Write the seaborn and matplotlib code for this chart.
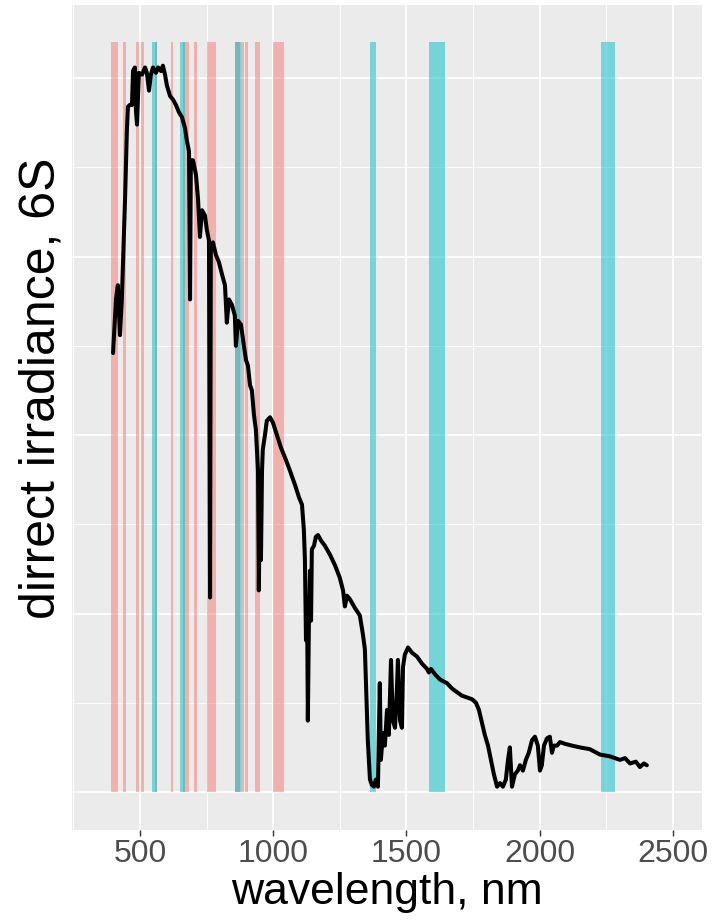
import matplotlib
matplotlib.use("Agg")
import matplotlib.pyplot as plt
import seaborn as sns
from matplotlib.ticker import MultipleLocator, NullFormatter, FixedLocator

# ---------------- data ----------------
wavelength = [399, 410, 417, 425, 432, 444, 451, 455, 462, 470, 474, 481, 485, 489, 496,
              508, 519, 526, 534, 541, 549, 560, 568, 579, 586, 594, 601, 613, 624, 635,
              646, 658, 669, 676, 684, 688, 691, 699, 710, 718, 725, 733, 744, 751, 759,
              763, 766, 774, 785, 796, 808, 819, 826, 834, 845, 856, 860, 868, 879, 890,
              898, 905, 913, 920, 928, 935, 943, 946, 950, 954, 958, 961, 969, 976, 988,
              999, 1014, 1029, 1048, 1063, 1082, 1097, 1108, 1115, 1119, 1123, 1127, 1130, 1134, 1138,
              1142, 1145, 1153, 1160, 1168, 1179, 1194, 1213, 1232, 1250, 1262, 1269, 1277, 1288, 1307,
              1325, 1337, 1344, 1348, 1355, 1363, 1370, 1378, 1385, 1393, 1400, 1404, 1412, 1419, 1427,
              1434, 1442, 1449, 1457, 1464, 1468, 1476, 1483, 1487, 1494, 1506, 1521, 1539, 1558, 1577,
              1584, 1592, 1607, 1626, 1652, 1671, 1689, 1708, 1727, 1746, 1761, 1772, 1783, 1794, 1806,
              1817, 1828, 1840, 1851, 1862, 1873, 1881, 1888, 1896, 1907, 1918, 1926, 1937, 1948, 1959,
              1971, 1982, 1993, 2001, 2008, 2016, 2027, 2038, 2046, 2053, 2065, 2076, 2095, 2121, 2151,
              2188, 2226, 2263, 2301, 2320, 2339, 2361, 2376, 2391, 2402]
irradiance = [2.46, 2.76, 2.84, 2.56, 2.76, 3.32, 3.71, 3.84, 3.85, 3.85, 4.04, 4.06, 3.82, 3.74, 4.03,
              4.02, 4.06, 4.03, 3.93, 4.02, 4.06, 4.03, 4.06, 4.04, 4.07, 4.02, 3.96, 3.90, 3.88, 3.85,
              3.81, 3.78, 3.72, 3.65, 3.59, 2.76, 3.54, 3.54, 3.46, 3.32, 3.11, 3.26, 3.23, 3.15, 3.09,
              1.09, 3.06, 3.08, 3.01, 2.97, 2.90, 2.84, 2.63, 2.76, 2.73, 2.67, 2.50, 2.64, 2.62, 2.50,
              2.42, 2.39, 2.28, 2.25, 2.11, 2.03, 1.80, 1.13, 1.64, 1.30, 1.80, 1.92, 2.00, 2.08, 2.10,
              2.07, 2.00, 1.93, 1.86, 1.80, 1.72, 1.65, 1.61, 1.47, 1.30, 0.85, 1.08, 0.40, 0.96, 1.24,
              0.96, 1.36, 1.38, 1.43, 1.44, 1.41, 1.38, 1.33, 1.27, 1.20, 1.13, 1.04, 1.10, 1.08, 1.03,
              0.99, 0.88, 0.80, 0.61, 0.29, 0.07, 0.04, 0.03, 0.07, 0.03, 0.61, 0.18, 0.33, 0.26, 0.46,
              0.32, 0.74, 0.40, 0.36, 0.57, 0.74, 0.40, 0.36, 0.70, 0.77, 0.81, 0.78, 0.76, 0.72, 0.69,
              0.67, 0.69, 0.66, 0.63, 0.61, 0.58, 0.56, 0.54, 0.53, 0.52, 0.50, 0.46, 0.39, 0.32, 0.26,
              0.18, 0.10, 0.03, 0.05, 0.03, 0.07, 0.18, 0.25, 0.03, 0.10, 0.12, 0.15, 0.12, 0.18, 0.22,
              0.29, 0.31, 0.26, 0.12, 0.15, 0.26, 0.30, 0.31, 0.22, 0.26, 0.26, 0.28, 0.27, 0.26, 0.25,
              0.24, 0.21, 0.20, 0.18, 0.19, 0.16, 0.17, 0.14, 0.16, 0.15]

olci_center = [400, 412.5, 442.5, 490, 510, 560, 620, 665, 673.75, 681.25, 708.75,
               753.75, 761.25, 764.375, 767.5, 778.75, 865, 885, 900, 940, 1020]
olci_width = [15, 10, 10, 10, 10, 10, 10, 10, 7.5, 7.5, 10,
              7.5, 2.5, 3.75, 2.5, 15, 20, 10, 10, 20, 40]
slstr_center = [554.27, 659.47, 868.0, 1374.8, 1613.4, 2255.7]
slstr_width = [19.26, 19.25, 20.6, 20.8, 60.68, 50.15]
band_top = 4.2

x_ticks = [500, 1000, 1500, 2000, 2500]
x_tick_labels = ["500", "1000", "1500", "2000", "2500"]
x_label = "wavelength, nm"
y_label = "dirrect irradiance, 6S"

# ---------------- style ----------------
sns.set_theme(style="darkgrid", rc={
    "axes.facecolor": "#EBEBEB",
    "grid.color": "white",
    "axes.edgecolor": "#EBEBEB",
})
plt.rcParams["font.family"] = ["Liberation Sans", "DejaVu Sans"]

fig = plt.figure(figsize=(7.15, 9.24), dpi=100)
ax = fig.add_axes([72 / 715, 1 - 829.5 / 924, 630 / 715, 824.5 / 924])
ax.set_axisbelow(True)

ax.bar(olci_center, band_top, width=olci_width, bottom=0, color="#F8766D",
       alpha=0.5, linewidth=0, align="center", zorder=2)
ax.bar(slstr_center, band_top, width=slstr_width, bottom=0, color="#00BFC4",
       alpha=0.5, linewidth=0, align="center", zorder=2)

sns.lineplot(x=wavelength, y=irradiance, sort=False, color="black",
             linewidth=2.9, ax=ax, zorder=3)
for ln in ax.lines:
    ln.set_solid_joinstyle("round")
    ln.set_solid_capstyle("round")

ax.set_xlim(245, 2609)
ax.set_ylim(-0.21, 4.41)

ax.xaxis.set_major_locator(FixedLocator(x_ticks))
ax.set_xticklabels(x_tick_labels)
ax.xaxis.set_minor_locator(FixedLocator([250, 750, 1250, 1750, 2250]))
ax.yaxis.set_major_locator(MultipleLocator(1.0))
ax.yaxis.set_minor_locator(MultipleLocator(0.5))
ax.yaxis.set_major_formatter(NullFormatter())

ax.grid(which="major", color="white", linewidth=1.3)
ax.grid(which="minor", color="white", linewidth=0.65)

ax.tick_params(axis="x", which="major", bottom=True, length=4, width=1,
               color="#333333", labelsize=23, labelcolor="#4D4D4D", pad=3)
ax.tick_params(axis="x", which="minor", bottom=False)
ax.tick_params(axis="y", which="both", left=False, labelleft=False)

for s in ax.spines.values():
    s.set_visible(False)

ax.set_xlabel(x_label, fontsize=32, color="black", labelpad=2)
ax.set_ylabel(y_label, fontsize=36, color="black")
ax.yaxis.set_label_coords(-0.012, 0.535)

fig.savefig("out.png", dpi=100)
